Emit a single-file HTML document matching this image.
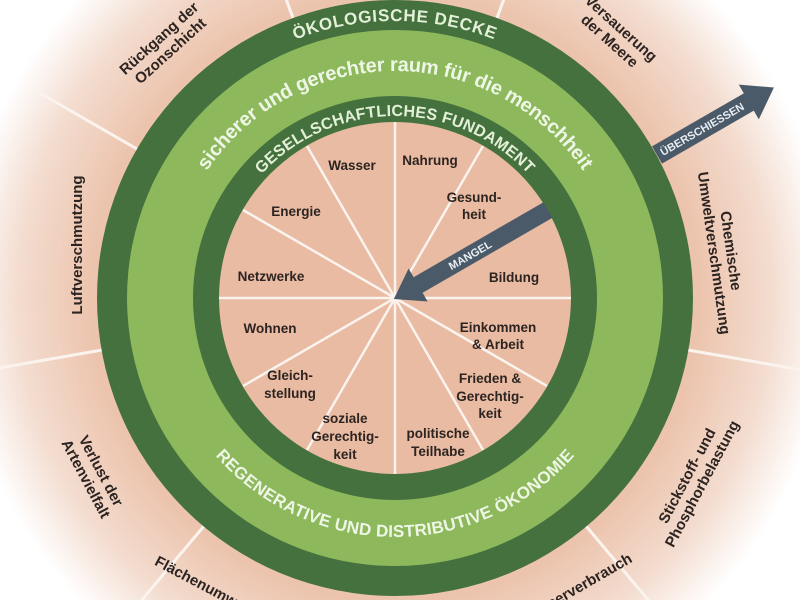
<!DOCTYPE html>
<html><head><meta charset="utf-8"><style>
html,body{margin:0;padding:0;width:800px;height:600px;overflow:hidden;background:#fff}
svg{display:block}
text{font-family:"Liberation Sans",sans-serif;font-weight:bold}
</style></head><body>
<svg width="800" height="600" viewBox="0 0 800 600" xmlns="http://www.w3.org/2000/svg" style="overflow:hidden">
<defs>
<radialGradient id="bg" cx="395" cy="298" r="470" gradientUnits="userSpaceOnUse">
<stop offset="0.64" stop-color="#ecc3ac"/>
<stop offset="0.8" stop-color="#f3dccf"/>
<stop offset="0.93" stop-color="#ffffff"/>
</radialGradient>
<path id="pTop1" d="M 112 298 A 283 283 0 0 1 678 298"/>
<path id="pTop2" d="M 162 298 A 233 233 0 0 1 628 298"/>
<path id="pTop3" d="M 208 298 A 187 187 0 0 1 582 298"/>
<path id="pBot" d="M 162 298 A 233 233 0 0 0 628 298"/>
</defs>
<rect width="800" height="600" fill="url(#bg)"/>
<g stroke="#fbf3ee" stroke-width="3">
<line x1="497" y1="18" x2="539" y2="-97"/>
<line x1="293" y1="18" x2="251" y2="-97"/>
<line x1="653" y1="149" x2="759" y2="88"/>
<line x1="137" y1="149" x2="31" y2="88"/>
<line x1="688" y1="350" x2="808" y2="371"/>
<line x1="102" y1="350" x2="-18" y2="371"/>
<line x1="586" y1="526" x2="665" y2="620"/>
<line x1="204" y1="526" x2="125" y2="620"/>
</g>
<circle cx="395" cy="298" r="298" fill="#44713d"/>
<circle cx="395" cy="298" r="268" fill="#8db85c"/>
<circle cx="395" cy="298" r="202" fill="#44713d"/>
<circle cx="395" cy="298" r="176" fill="#e8bba2"/>
<g stroke="#fbf3ee" stroke-width="2.5">
<line x1="395" y1="298" x2="395" y2="122"/>
<line x1="395" y1="298" x2="483" y2="146"/>
<line x1="395" y1="298" x2="547" y2="210"/>
<line x1="395" y1="298" x2="571" y2="298"/>
<line x1="395" y1="298" x2="547" y2="386"/>
<line x1="395" y1="298" x2="483" y2="450"/>
<line x1="395" y1="298" x2="395" y2="474"/>
<line x1="395" y1="298" x2="307" y2="450"/>
<line x1="395" y1="298" x2="243" y2="386"/>
<line x1="395" y1="298" x2="219" y2="298"/>
<line x1="395" y1="298" x2="243" y2="210"/>
<line x1="395" y1="298" x2="307" y2="146"/>
</g>
<text font-size="17" fill="#e4f0d8" font-weight="normal" dominant-baseline="central"><textPath href="#pTop1" startOffset="50%" text-anchor="middle" letter-spacing="1">ÖKOLOGISCHE DECKE</textPath></text>
<text font-size="20" fill="#eef6e6" font-weight="normal" dominant-baseline="central"><textPath href="#pTop2" startOffset="50%" text-anchor="middle">sicherer und gerechter raum für die menschheit</textPath></text>
<text font-size="16" fill="#e4f0d8" font-weight="normal" dominant-baseline="central"><textPath href="#pTop3" startOffset="50%" text-anchor="middle" letter-spacing="0.5">GESELLSCHAFTLICHES FUNDAMENT</textPath></text>
<text font-size="17" fill="#eef6e6" font-weight="normal" dominant-baseline="central"><textPath href="#pBot" startOffset="50%" text-anchor="middle">REGENERATIVE UND DISTRIBUTIVE ÖKONOMIE</textPath></text>
<g font-size="13.5" fill="#2d2421" text-anchor="middle">
<text x="352" y="170">Wasser</text>
<text x="430" y="165">Nahrung</text>
<text x="474" y="202">Gesund-</text><text x="474" y="219">heit</text>
<text x="296" y="216">Energie</text>
<text x="514" y="282">Bildung</text>
<text x="271" y="281">Netzwerke</text>
<text x="270" y="333">Wohnen</text>
<text x="498" y="332">Einkommen</text><text x="498" y="349">&amp; Arbeit</text>
<text x="290" y="380">Gleich-</text><text x="290" y="398">stellung</text>
<text x="490" y="383">Frieden &amp;</text><text x="490" y="401">Gerechtig-</text><text x="490" y="418">keit</text>
<text x="345" y="423">soziale</text><text x="345" y="441">Gerechtig-</text><text x="345" y="459">keit</text>
<text x="438" y="438">politische</text><text x="438" y="456">Teilhabe</text>
</g>
<g font-size="15" fill="#2d2421" text-anchor="middle">
<g transform="translate(165,45) rotate(-42)"><text x="0" y="-4">Rückgang der</text><text x="0" y="13">Ozonschicht</text></g>
<g transform="translate(77,245) rotate(-90)"><text x="0" y="5">Luftverschmutzung</text></g>
<g transform="translate(93,475) rotate(62)"><text x="0" y="-4">Verlust der</text><text x="0" y="13">Artenvielfalt</text></g>
<g transform="translate(222,595) rotate(28)"><text x="0" y="5">Flächenumwandlung</text></g>
<g transform="translate(615,35) rotate(42)"><text x="0" y="-4">Versauerung</text><text x="0" y="13">der Meere</text></g>
<g transform="translate(722,252) rotate(82)"><text x="0" y="-4">Chemische</text><text x="0" y="13">Umweltverschmutzung</text></g>
<g transform="translate(695,480) rotate(-62)"><text x="0" y="-4">Stickstoff- und</text><text x="0" y="13">Phosphorbelastung</text></g>
<g transform="translate(565,595) rotate(-30)"><text x="0" y="5">Süßwasserverbrauch</text></g>
</g>
<g transform="translate(657,155) rotate(-30)">
<rect x="0" y="-10" width="110" height="20" fill="#4b5a68"/>
<polygon points="106,-20 135,0 106,20" fill="#4b5a68"/>
<text x="52" y="4" font-size="11" font-weight="normal" fill="#e8eef3" text-anchor="middle">ÜBERSCHIESSEN</text>
</g>
<g transform="translate(548,210) rotate(150)">
<rect x="0" y="-9" width="155" height="18" fill="#4b5a68"/>
<polygon points="150,-19 178,0 150,19" fill="#4b5a68"/>
<text x="90" y="4" font-size="11" font-weight="normal" fill="#e8eef3" text-anchor="middle" transform="rotate(180 90 0)">MANGEL</text>
</g>
</svg>
</body></html>
